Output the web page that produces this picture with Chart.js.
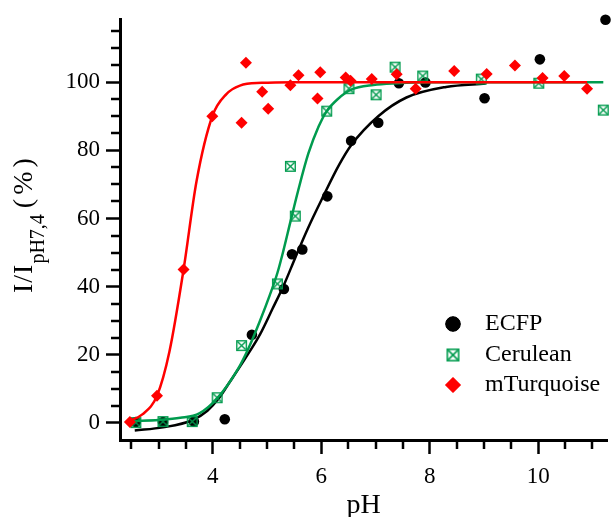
<!DOCTYPE html>
<html>
<head>
<meta charset="utf-8">
<script src="https://cdn.jsdelivr.net/npm/chart.js@4.4.1/dist/chart.umd.min.js"></script>
<style>
  html, body { margin: 0; padding: 0; background: #fff; }
  #wrap { width: 613px; height: 517px; }
</style>
</head>
<body>
<div id="wrap"><canvas id="grafico"></canvas></div>
<script>
// measured points (pH, intensity %)
const phEcfp  = [2.58, 3.08, 3.65, 4.22, 4.72, 5.31, 5.46, 5.65, 6.11, 6.55, 7.05, 7.43, 7.92, 9.01, 10.03, 11.24];
const valEcfp = [0.3, 0.3, 0.4, 1.1, 25.9, 39.3, 49.5, 50.9, 66.5, 82.8, 88.1, 99.7, 99.9, 95.3, 106.7, 118.3];

const phCerulean  = [2.58, 3.08, 3.62, 4.08, 4.53, 5.19, 5.43, 5.52, 6.10, 6.51, 7.01, 7.36, 7.87, 8.95, 10.01, 11.20];
const valCerulean = [0.1, 0.4, 0.4, 7.4, 22.7, 40.8, 75.3, 60.7, 91.5, 98.1, 96.3, 104.4, 101.8, 100.9, 99.7, 91.8];

const phTurq  = [2.47, 2.97, 3.46, 3.99, 4.53, 4.61, 4.91, 5.02, 5.43, 5.58, 5.93, 5.98, 6.45, 6.54, 6.93, 7.39, 7.74, 8.45, 9.05, 9.57, 10.08, 10.48, 10.90];
const valTurq = [0.3, 8.0, 45.0, 90.0, 88.1, 105.7, 97.2, 92.2, 99.1, 102.0, 95.2, 102.9, 101.4, 100.4, 100.9, 102.3, 98.1, 103.3, 102.4, 104.9, 101.2, 101.8, 98.1];

// fitted curves
const fitPhEcfp  = [2.56, 3.08, 3.62, 3.9, 4.1, 4.29, 4.66, 4.87, 5.1, 5.31, 5.52, 5.75, 6.02, 6.33, 6.55, 7.05, 7.57, 8.3, 9.03];
const fitValEcfp = [-2.2, -1.3, 0.8, 3.6, 7.0, 11.5, 20.5, 26, 33.5, 40.5, 48.5, 57, 66, 75.8, 81.5, 90, 95.5, 98.6, 99.6];

const fitPhCerulean  = [2.53, 3.0, 3.4, 3.75, 4.08, 4.47, 4.66, 4.87, 5.05, 5.19, 5.3, 5.43, 5.57, 5.76, 5.95, 6.1, 6.3, 6.55, 6.96, 7.4, 8.0, 11.2];
const fitValCerulean = [0.6, 0.9, 1.5, 2.8, 7.2, 16, 22, 30, 37.5, 44, 50.5, 59, 68, 79, 87, 91.5, 95, 97.8, 99.2, 99.7, 100, 100];

const fitPhTurq  = [2.45, 2.7, 2.97, 3.2, 3.46, 3.7, 3.99, 4.25, 4.5, 4.9, 5.5, 10.9];
const fitValTurq = [0.5, 2.5, 8, 21, 45, 71, 90, 96.5, 99, 99.8, 100, 100];

const xMajor = [4, 6, 8, 10];
const xMinor = [2.5, 3, 3.5, 4.5, 5, 5.5, 6.5, 7, 7.5, 8.5, 9, 9.5, 10.5, 11];
const yMajor = [0, 20, 40, 60, 80, 100];
const yMinor = [5, 10, 15, 25, 30, 35, 45, 50, 55, 65, 70, 75, 85, 90, 95, 105, 110, 115];

const COR = { preto: '#000000', verde: '#009b4e', vermelho: '#ff0000' };
const FONTE = "'Liberation Serif', 'Times New Roman', serif";

const pares = (xs, ys) => xs.map((x, i) => ({ x, y: ys[i] }));

// quadrado com X (marcador do Cerulean)
function caixaX(lado, lw) {
    const c = document.createElement('canvas');
    c.width = lado + 2; c.height = lado + 2;
    const g = c.getContext('2d');
    g.strokeStyle = COR.verde;
    g.lineWidth = lw;
    g.strokeRect(1 + lw / 2, 1 + lw / 2, lado - lw, lado - lw);
    g.beginPath();
    g.moveTo(1 + lw, 1 + lw); g.lineTo(1 + lado - lw, 1 + lado - lw);
    g.moveTo(1 + lado - lw, 1 + lw); g.lineTo(1 + lw, 1 + lado - lw);
    g.stroke();
    return c;
}
const marcaCerulean = caixaX(11, 1.4);
const marcaCeruleanLeg = caixaX(13, 1.6);

const curva = (data, cor, order) => ({
    data, showLine: true, borderColor: cor, borderWidth: 2.5,
    pointRadius: 0, pointHoverRadius: 0, cubicInterpolationMode: 'monotone',
    clip: false, order,
});

const eixosExtras = {
    id: 'eixosExtras',
    afterDraw(chart) {
        const { ctx, chartArea: ca, scales: { x, y } } = chart;
        ctx.save();
        ctx.strokeStyle = '#000';
        ctx.lineWidth = 2.5;
        ctx.beginPath();
        yMinor.forEach(v => {
            const py = Math.round(y.getPixelForValue(v));
            ctx.moveTo(ca.left - 9, py); ctx.lineTo(ca.left, py);
        });
        xMinor.forEach(v => {
            const px = Math.round(x.getPixelForValue(v));
            ctx.moveTo(px, ca.bottom); ctx.lineTo(px, ca.bottom + 9);
        });
        ctx.stroke();

        // titulo do eixo y com subscrito (rodado, lido de baixo para cima)
        ctx.fillStyle = '#000';
        ctx.translate(32, 293);
        ctx.rotate(-Math.PI / 2);
        ctx.textBaseline = 'alphabetic';
        ctx.font = `28px ${FONTE}`;
        ctx.letterSpacing = '1px';
        ctx.fillText('I/I', 0, 0);
        const w1 = ctx.measureText('I/I').width;
        ctx.font = `20px ${FONTE}`;
        ctx.letterSpacing = '0px';
        ctx.fillText('pH7,4', w1, 12);
        const w2 = ctx.measureText('pH7,4').width;
        ctx.font = `28px ${FONTE}`;
        ctx.letterSpacing = '4px';
        ctx.fillText('(%)', w1 + w2 + 6, 0);
        ctx.restore();

        // legenda
        ctx.save();
        ctx.font = `24px ${FONTE}`;
        ctx.textBaseline = 'middle';
        const itens = [
            { txt: chart.data.datasets[1].label, y: 324, estilo: 'circle', cor: COR.preto, r: 7.3 },
            { txt: chart.data.datasets[3].label, y: 355, estilo: marcaCeruleanLeg, cor: COR.verde, r: 7 },
            { txt: chart.data.datasets[5].label, y: 385, estilo: 'rectRot', cor: COR.vermelho, r: 7.5 },
        ];
        itens.forEach(it => {
            ctx.fillStyle = it.cor; ctx.strokeStyle = it.cor; ctx.lineWidth = 1;
            Chart.helpers.drawPoint(ctx, { pointStyle: it.estilo, radius: it.r, rotation: 0, borderWidth: 1 }, 453, it.y);
            if (typeof it.estilo === 'string') ctx.fill();
            ctx.fillStyle = '#000';
            ctx.fillText(it.txt, 485, it.y);
        });
        ctx.restore();
    }
};

new Chart(document.getElementById('grafico'), {
    type: 'scatter',
    data: {
        datasets: [
            curva(pares(fitPhEcfp, fitValEcfp), COR.preto, 6),
            { label: 'ECFP', data: pares(phEcfp, valEcfp), pointStyle: 'circle', pointRadius: 5.3,
              backgroundColor: COR.preto, borderColor: COR.preto, borderWidth: 0, clip: false, order: 5 },
            curva(pares(fitPhCerulean, fitValCerulean), COR.verde, 4),
            { label: 'Cerulean', data: pares(phCerulean, valCerulean), pointStyle: marcaCerulean,
              backgroundColor: COR.verde, borderColor: COR.verde, clip: false, order: 3 },
            curva(pares(fitPhTurq, fitValTurq), COR.vermelho, 2),
            { label: 'mTurquoise', data: pares(phTurq, valTurq), pointStyle: 'rectRot', pointRadius: 6,
              backgroundColor: COR.vermelho, borderColor: COR.vermelho, borderWidth: 0, clip: false, order: 1 },
        ]
    },
    options: {
        responsive: true,
        maintainAspectRatio: false,
        animation: false,
        events: [],
        layout: { padding: { top: 16, right: 0, left: 0, bottom: 0 } },
        plugins: { legend: { display: false }, tooltip: { enabled: false } },
        scales: {
            x: {
                type: 'linear', min: 2.288, max: 11.268,
                afterBuildTicks: s => { s.ticks = xMajor.map(v => ({ value: v })); },
                afterFit: s => { s.height = 77; },
                grid: { drawOnChartArea: false, tickLength: 14, tickWidth: 2.5, tickColor: '#000' },
                border: { display: true, width: 3, color: '#000' },
                ticks: { font: { family: FONTE, size: 23 }, color: '#000', padding: 9, maxRotation: 0 },
                title: { display: true, text: 'pH', font: { family: FONTE, size: 28, lineHeight: 0.8 }, color: '#000', padding: { top: 0, bottom: 0 } },
            },
            y: {
                type: 'linear', min: -5, max: 118.3,
                afterBuildTicks: s => { s.ticks = yMajor.map(v => ({ value: v })); },
                afterFit: s => { s.width = 120; },
                grid: { drawOnChartArea: false, tickLength: 14, tickWidth: 2.5, tickColor: '#000' },
                border: { display: true, width: 3, color: '#000' },
                ticks: { font: { family: FONTE, size: 23 }, color: '#000', padding: 6 },
            }
        }
    },
    plugins: [eixosExtras]
});
</script>
</body>
</html>
